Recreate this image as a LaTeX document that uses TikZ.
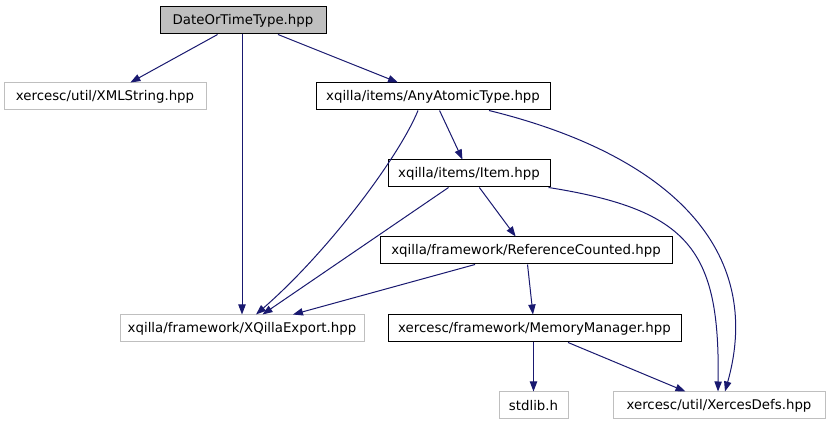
\documentclass[tikz,border=0pt]{standalone}
\usepackage{fontspec}
\setmainfont{DejaVu Sans}
\usetikzlibrary{arrows.meta,calc}
\definecolor{edgeblue}{HTML}{191970}
\definecolor{lgray}{HTML}{BFBFBF}
\begin{document}
\begin{tikzpicture}[x=0.75pt,y=-0.75pt,
  every node/.style={font=\fontsize{10pt}{11pt}\selectfont, inner sep=0pt, minimum height=27*0.75pt, anchor=center},
  filebox/.style={draw=black, line width=0.75pt},
  extbox/.style={draw=lgray, line width=0.75pt},
  rootbox/.style={draw=black, fill=lgray, line width=0.75pt},
  dep/.style={draw=edgeblue, line width=0.75pt, -{Triangle[length=7.5pt,width=5.5pt]}, color=edgeblue}]
\useasboundingbox (0,0) rectangle (829,427);
\fill[white] (0,0) rectangle (829,427);
\node[rootbox, minimum width=166*0.75pt] (date) at (243,20.5) {DateOrTimeType.hpp};
\node[extbox, minimum width=202*0.75pt] (xml) at (105,96.5) {xercesc/util/XMLString.hpp};
\node[filebox, minimum width=234*0.75pt] (any) at (433,96.5) {xqilla/items/AnyAtomicType.hpp};
\node[filebox, minimum width=162*0.75pt] (item) at (469,173.5) {xqilla/items/Item.hpp};
\node[filebox, minimum width=292*0.75pt] (ref) at (526,250.5) {xqilla/framework/ReferenceCounted.hpp};
\node[extbox, minimum width=244*0.75pt] (xqe) at (242,328.5) {xqilla/framework/XQillaExport.hpp};
\node[filebox, minimum width=293*0.75pt] (mem) at (534.5,328.5) {xercesc/framework/MemoryManager.hpp};
\node[extbox, minimum width=69*0.75pt] (std) at (533.5,405.5) {stdlib.h};
\node[extbox, minimum width=212*0.75pt] (xer) at (719,405.5) {xercesc/util/XercesDefs.hpp};

\draw[dep] (date) -- (xml);
\draw[dep] (date.south -| xqe.north) -- (xqe.north);
\draw[dep] (date) -- (any);
\draw[dep] (any) -- (item);
\draw[dep] ($(any.south)+(-15,0)$) .. controls (400,155) and (330,250) .. ($(xqe.north)+(14,0)$);
\draw[dep] ($(any.south)+(56,0)$) .. controls (670,155) and (765,250) .. ($(xer.north)+(6,0)$);
\draw[dep] (item) -- (xqe);
\draw[dep] (item) -- (ref);
\draw[dep] ($(item.south east)+(-2,0)$) .. controls (690,210) and (720,250) .. ($(xer.north)+(-1,0)$);
\draw[dep] (ref) -- (xqe);
\draw[dep] (ref) -- (mem);
\draw[dep] (mem.south -| std.north) -- (std.north);
\draw[dep] (mem) -- (xer);
\end{tikzpicture}
\end{document}
